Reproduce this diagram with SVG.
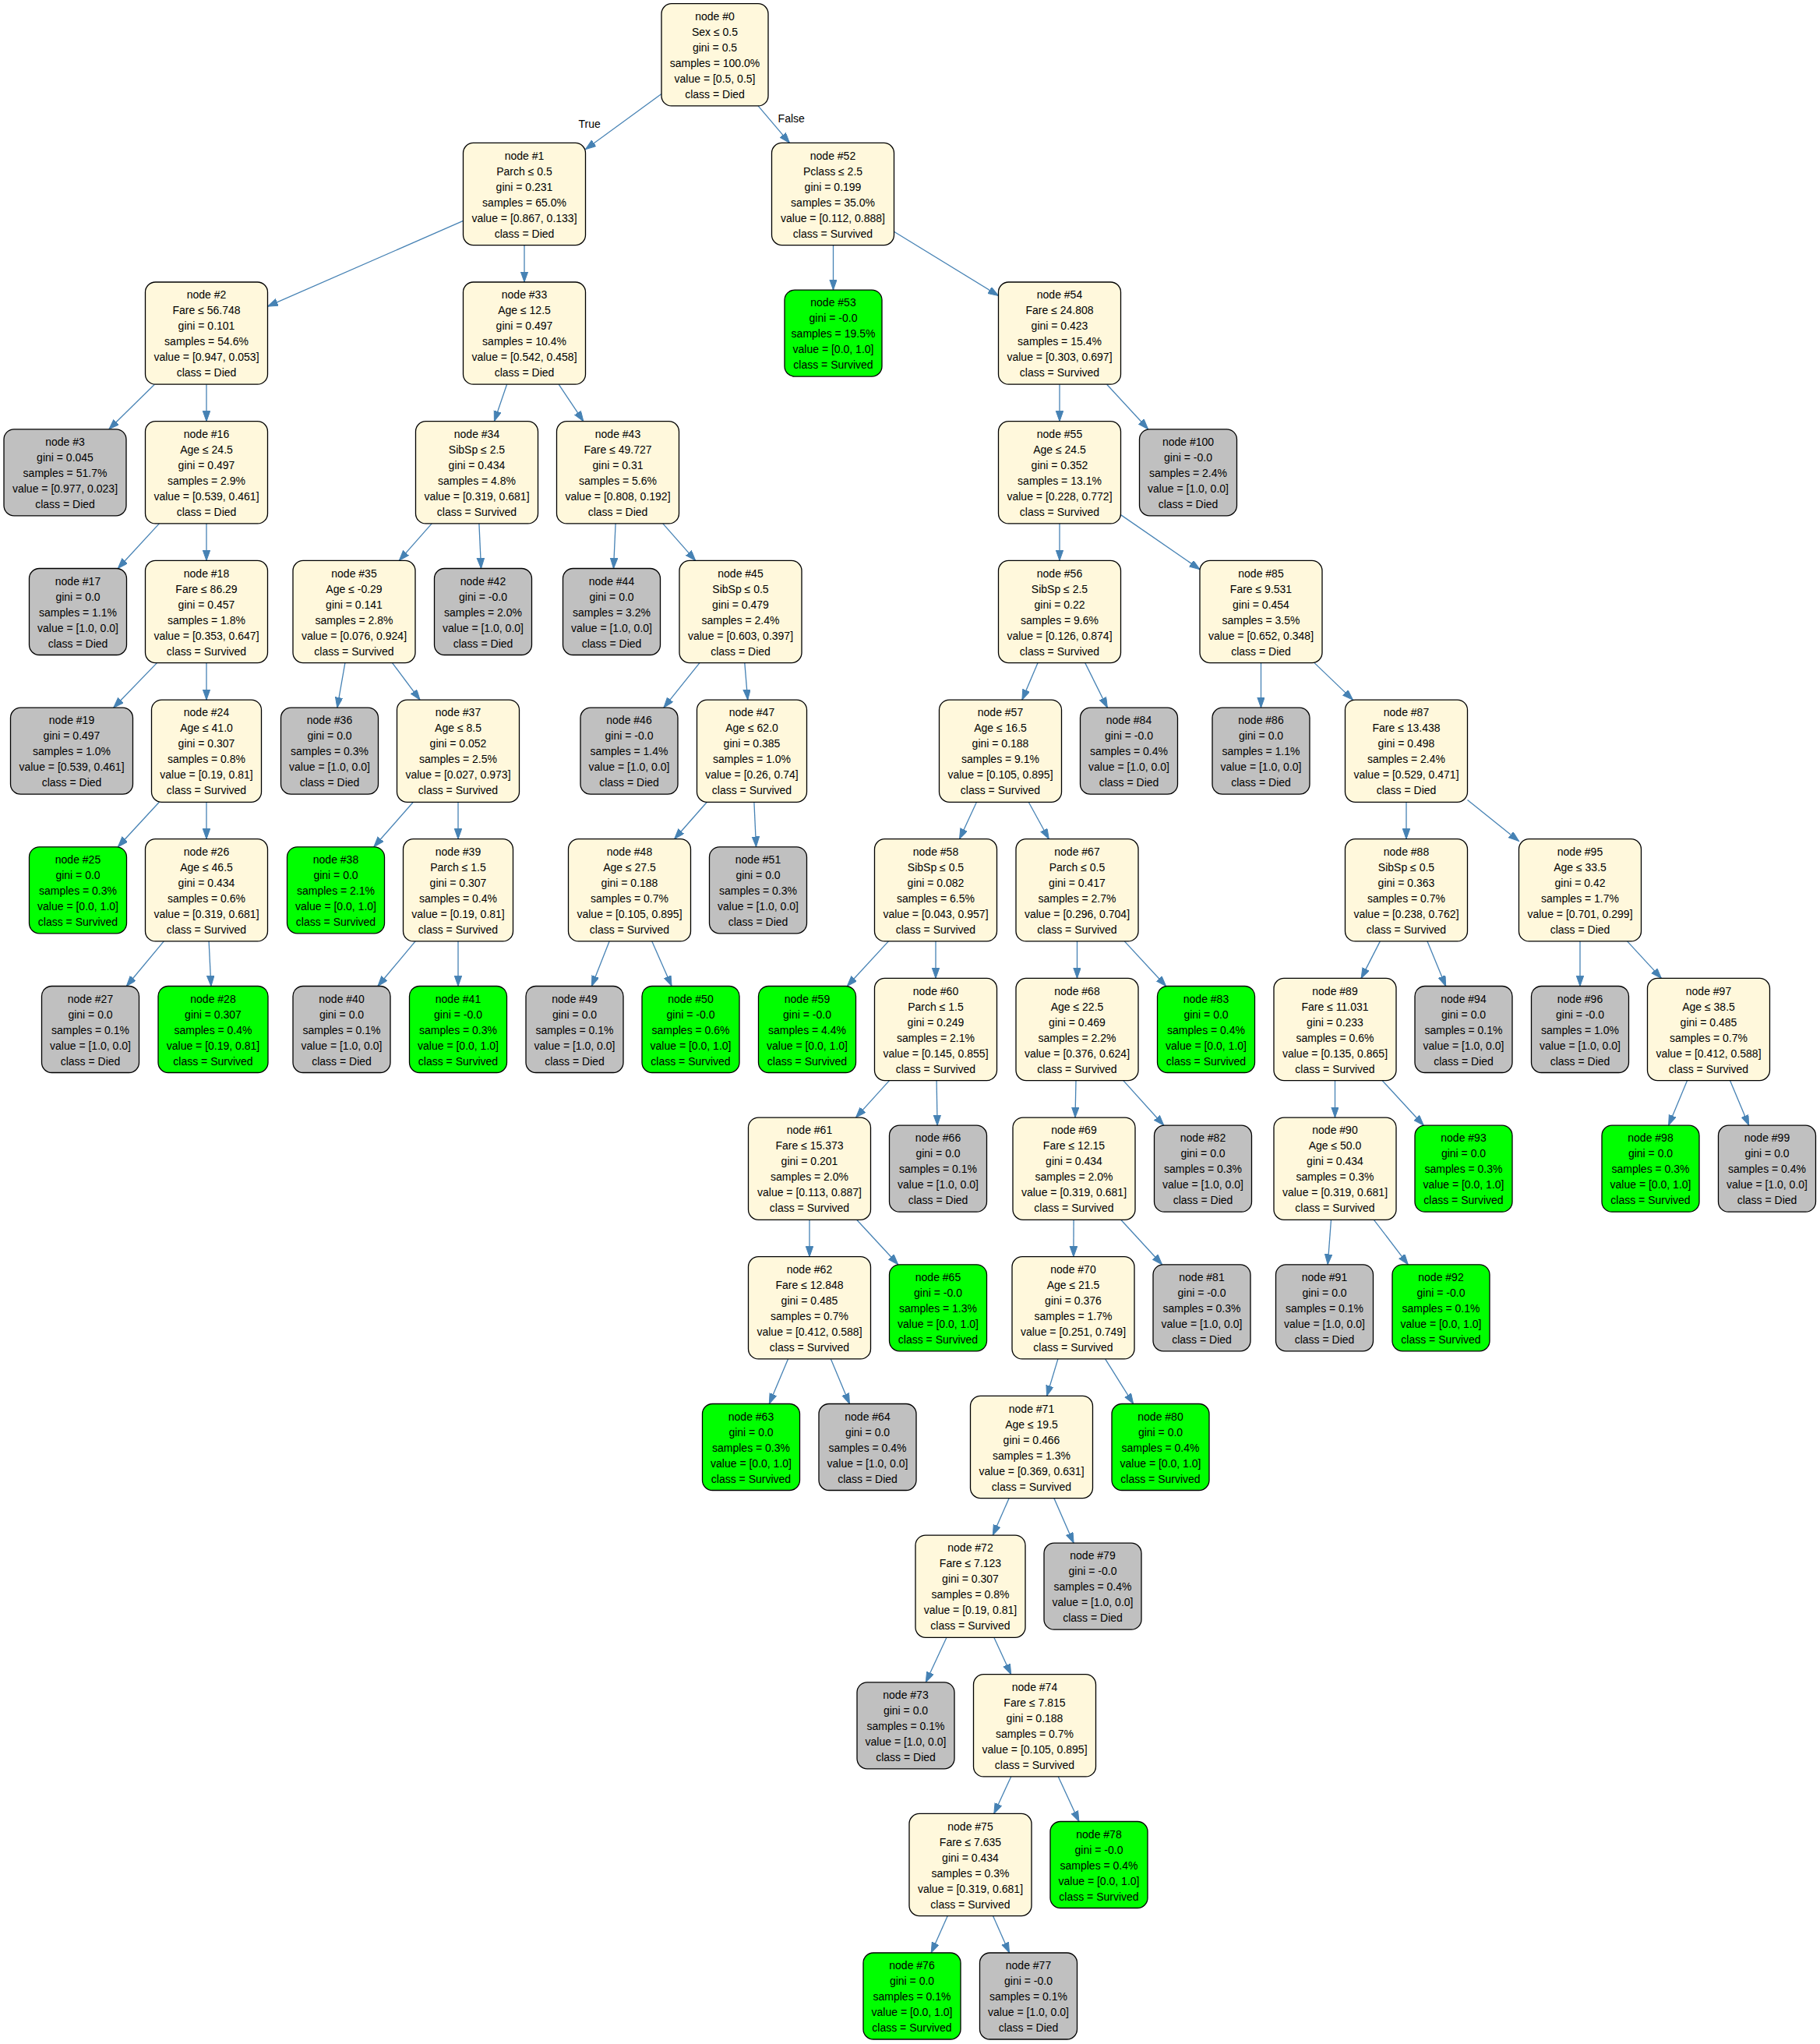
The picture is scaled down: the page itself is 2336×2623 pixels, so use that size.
<svg xmlns="http://www.w3.org/2000/svg" width="2336" height="2623" viewBox="0 0 2336 2623">
<style>
.i,.s,.d{stroke:#000;stroke-width:1.3}
.i{fill:#fff8dc}.s{fill:#00ff00}.d{fill:#c0c0c0}
text{font-family:"Liberation Sans",Arial,Helvetica,sans-serif;font-size:14px;text-anchor:middle;fill:#000}
#edges line{stroke:#4682b4;stroke-width:1.3;fill:none;marker-end:url(#a)}
</style>
<defs>
<marker id="a" markerUnits="userSpaceOnUse" markerWidth="15" markerHeight="11" refX="13.3" refY="4.7" orient="auto">
<path d="M0,0 L13.3,4.7 L0,9.4 Z" fill="#4682b4" stroke="#4682b4" stroke-width="1"/>
</marker>
</defs>
<rect x="0" y="0" width="2336" height="2623" fill="#fff"/>
<g id="edges">
<line x1="849" y1="120.4" x2="751.5" y2="191.6"/>
<line x1="973.1" y1="135.9" x2="1013.4" y2="183.4"/>
<line x1="594.5" y1="283.4" x2="343.5" y2="393.2"/>
<line x1="673" y1="314.6" x2="673" y2="362"/>
<line x1="198.4" y1="493.2" x2="139.9" y2="550.8"/>
<line x1="265" y1="493.2" x2="265" y2="540.7"/>
<line x1="204.4" y1="671.9" x2="151.3" y2="729.5"/>
<line x1="265" y1="671.9" x2="265" y2="719.4"/>
<line x1="201.5" y1="850.6" x2="145.7" y2="908.2"/>
<line x1="265" y1="850.6" x2="265" y2="898.1"/>
<line x1="204.4" y1="1029.3" x2="151.3" y2="1086.8"/>
<line x1="265" y1="1029.3" x2="265" y2="1076.7"/>
<line x1="210.3" y1="1207.9" x2="162.3" y2="1265.5"/>
<line x1="268.1" y1="1207.9" x2="270.9" y2="1265.5"/>
<line x1="650.6" y1="493.2" x2="634.4" y2="540.7"/>
<line x1="717.1" y1="493.2" x2="748.9" y2="540.7"/>
<line x1="554.2" y1="671.9" x2="512.3" y2="719.4"/>
<line x1="614.9" y1="671.9" x2="617.5" y2="729.5"/>
<line x1="442.9" y1="850.6" x2="432.8" y2="908.2"/>
<line x1="503.5" y1="850.6" x2="539" y2="898.1"/>
<line x1="530.4" y1="1029.3" x2="479.8" y2="1086.8"/>
<line x1="588" y1="1029.3" x2="588" y2="1076.7"/>
<line x1="533.1" y1="1207.9" x2="484.9" y2="1265.5"/>
<line x1="588" y1="1207.9" x2="588" y2="1265.5"/>
<line x1="790.1" y1="671.9" x2="787.5" y2="729.5"/>
<line x1="850.8" y1="671.9" x2="892.7" y2="719.4"/>
<line x1="898" y1="850.6" x2="851.9" y2="908.2"/>
<line x1="955.8" y1="850.6" x2="959.7" y2="898.1"/>
<line x1="907.4" y1="1029.3" x2="865.6" y2="1076.7"/>
<line x1="967.9" y1="1029.3" x2="970.5" y2="1086.8"/>
<line x1="782.1" y1="1207.9" x2="759.4" y2="1265.5"/>
<line x1="836.8" y1="1207.9" x2="862.1" y2="1265.5"/>
<line x1="1069.5" y1="314.6" x2="1069.5" y2="372.1"/>
<line x1="1147.5" y1="297.2" x2="1281.5" y2="379.4"/>
<line x1="1360" y1="493.2" x2="1360" y2="540.7"/>
<line x1="1420.6" y1="493.2" x2="1473.7" y2="550.8"/>
<line x1="1360" y1="671.9" x2="1360" y2="719.4"/>
<line x1="1438.5" y1="660.6" x2="1540" y2="730.7"/>
<line x1="1332.1" y1="850.6" x2="1311.9" y2="898.1"/>
<line x1="1392.7" y1="850.6" x2="1421.4" y2="908.2"/>
<line x1="1253.5" y1="1029.3" x2="1231.5" y2="1076.7"/>
<line x1="1320.2" y1="1029.3" x2="1346.3" y2="1076.7"/>
<line x1="1140.4" y1="1207.9" x2="1087.3" y2="1265.5"/>
<line x1="1201" y1="1207.9" x2="1201" y2="1255.4"/>
<line x1="1141.5" y1="1386.6" x2="1098.5" y2="1434.1"/>
<line x1="1202.1" y1="1386.6" x2="1203.1" y2="1444.2"/>
<line x1="1039" y1="1565.3" x2="1039" y2="1612.7"/>
<line x1="1099.6" y1="1565.3" x2="1152.8" y2="1622.8"/>
<line x1="1011.5" y1="1743.9" x2="987.3" y2="1801.5"/>
<line x1="1066.4" y1="1743.9" x2="1090.4" y2="1801.5"/>
<line x1="1382.5" y1="1207.9" x2="1382.5" y2="1255.4"/>
<line x1="1443.3" y1="1207.9" x2="1496.6" y2="1265.5"/>
<line x1="1381" y1="1386.6" x2="1380" y2="1434.1"/>
<line x1="1441.8" y1="1386.6" x2="1493.8" y2="1444.2"/>
<line x1="1378.1" y1="1565.3" x2="1377.9" y2="1612.7"/>
<line x1="1438.7" y1="1565.3" x2="1491.6" y2="1622.8"/>
<line x1="1357.9" y1="1743.9" x2="1343.6" y2="1791.4"/>
<line x1="1418.6" y1="1743.9" x2="1454.7" y2="1801.5"/>
<line x1="1295.2" y1="1922.6" x2="1274.3" y2="1970.1"/>
<line x1="1352.8" y1="1922.6" x2="1378.1" y2="1980.2"/>
<line x1="1215" y1="2101.3" x2="1188.3" y2="2158.8"/>
<line x1="1275.8" y1="2101.3" x2="1297.7" y2="2148.7"/>
<line x1="1297.7" y1="2279.9" x2="1275.8" y2="2327.4"/>
<line x1="1358.3" y1="2279.9" x2="1384.9" y2="2337.5"/>
<line x1="1216.3" y1="2458.6" x2="1195.2" y2="2506"/>
<line x1="1274.5" y1="2458.6" x2="1295.5" y2="2506"/>
<line x1="1618.5" y1="850.6" x2="1618.5" y2="908.2"/>
<line x1="1687" y1="850.6" x2="1736.5" y2="898.1"/>
<line x1="1805" y1="1029.3" x2="1805" y2="1076.7"/>
<line x1="1883.5" y1="1026.6" x2="1949.5" y2="1079.4"/>
<line x1="1771.4" y1="1207.9" x2="1747.1" y2="1255.4"/>
<line x1="1832" y1="1207.9" x2="1855.7" y2="1265.5"/>
<line x1="1713.5" y1="1386.6" x2="1713.5" y2="1434.1"/>
<line x1="1774.1" y1="1386.6" x2="1827.3" y2="1444.2"/>
<line x1="1708.5" y1="1565.3" x2="1704.2" y2="1622.8"/>
<line x1="1763.4" y1="1565.3" x2="1807.3" y2="1622.8"/>
<line x1="2028" y1="1207.9" x2="2028" y2="1265.5"/>
<line x1="2088.6" y1="1207.9" x2="2132.4" y2="1255.4"/>
<line x1="2165.6" y1="1386.6" x2="2141.6" y2="1444.2"/>
<line x1="2220.5" y1="1386.6" x2="2244.7" y2="1444.2"/>
<text x="756.7" y="164.3">True</text>
<text x="1015.7" y="156.7">False</text>
</g>
<g id="node0"><rect class="i" x="849" y="4.7" width="137" height="131.2" rx="13"/><text x="917.5" y="26"><tspan x="917.5">node #0</tspan><tspan x="917.5" dy="20">Sex ≤ 0.5</tspan><tspan x="917.5" dy="20">gini = 0.5</tspan><tspan x="917.5" dy="20">samples = 100.0%</tspan><tspan x="917.5" dy="20">value = [0.5, 0.5]</tspan><tspan x="917.5" dy="20">class = Died</tspan></text></g>
<g id="node1"><rect class="i" x="594.5" y="183.4" width="157" height="131.2" rx="13"/><text x="673" y="204.7"><tspan x="673">node #1</tspan><tspan x="673" dy="20">Parch ≤ 0.5</tspan><tspan x="673" dy="20">gini = 0.231</tspan><tspan x="673" dy="20">samples = 65.0%</tspan><tspan x="673" dy="20">value = [0.867, 0.133]</tspan><tspan x="673" dy="20">class = Died</tspan></text></g>
<g id="node52"><rect class="i" x="990.5" y="183.4" width="157" height="131.2" rx="13"/><text x="1069" y="204.7"><tspan x="1069">node #52</tspan><tspan x="1069" dy="20">Pclass ≤ 2.5</tspan><tspan x="1069" dy="20">gini = 0.199</tspan><tspan x="1069" dy="20">samples = 35.0%</tspan><tspan x="1069" dy="20">value = [0.112, 0.888]</tspan><tspan x="1069" dy="20">class = Survived</tspan></text></g>
<g id="node2"><rect class="i" x="186.5" y="362" width="157" height="131.2" rx="13"/><text x="265" y="383.3"><tspan x="265">node #2</tspan><tspan x="265" dy="20">Fare ≤ 56.748</tspan><tspan x="265" dy="20">gini = 0.101</tspan><tspan x="265" dy="20">samples = 54.6%</tspan><tspan x="265" dy="20">value = [0.947, 0.053]</tspan><tspan x="265" dy="20">class = Died</tspan></text></g>
<g id="node33"><rect class="i" x="594.5" y="362" width="157" height="131.2" rx="13"/><text x="673" y="383.3"><tspan x="673">node #33</tspan><tspan x="673" dy="20">Age ≤ 12.5</tspan><tspan x="673" dy="20">gini = 0.497</tspan><tspan x="673" dy="20">samples = 10.4%</tspan><tspan x="673" dy="20">value = [0.542, 0.458]</tspan><tspan x="673" dy="20">class = Died</tspan></text></g>
<g id="node53"><rect class="s" x="1007" y="372.1" width="125" height="111" rx="13"/><text x="1069.5" y="393.3"><tspan x="1069.5">node #53</tspan><tspan x="1069.5" dy="20">gini = -0.0</tspan><tspan x="1069.5" dy="20">samples = 19.5%</tspan><tspan x="1069.5" dy="20">value = [0.0, 1.0]</tspan><tspan x="1069.5" dy="20">class = Survived</tspan></text></g>
<g id="node54"><rect class="i" x="1281.5" y="362" width="157" height="131.2" rx="13"/><text x="1360" y="383.3"><tspan x="1360">node #54</tspan><tspan x="1360" dy="20">Fare ≤ 24.808</tspan><tspan x="1360" dy="20">gini = 0.423</tspan><tspan x="1360" dy="20">samples = 15.4%</tspan><tspan x="1360" dy="20">value = [0.303, 0.697]</tspan><tspan x="1360" dy="20">class = Survived</tspan></text></g>
<g id="node3"><rect class="d" x="5" y="550.8" width="157" height="111" rx="13"/><text x="83.5" y="572"><tspan x="83.5">node #3</tspan><tspan x="83.5" dy="20">gini = 0.045</tspan><tspan x="83.5" dy="20">samples = 51.7%</tspan><tspan x="83.5" dy="20">value = [0.977, 0.023]</tspan><tspan x="83.5" dy="20">class = Died</tspan></text></g>
<g id="node16"><rect class="i" x="186.5" y="540.7" width="157" height="131.2" rx="13"/><text x="265" y="562"><tspan x="265">node #16</tspan><tspan x="265" dy="20">Age ≤ 24.5</tspan><tspan x="265" dy="20">gini = 0.497</tspan><tspan x="265" dy="20">samples = 2.9%</tspan><tspan x="265" dy="20">value = [0.539, 0.461]</tspan><tspan x="265" dy="20">class = Died</tspan></text></g>
<g id="node34"><rect class="i" x="533.5" y="540.7" width="157" height="131.2" rx="13"/><text x="612" y="562"><tspan x="612">node #34</tspan><tspan x="612" dy="20">SibSp ≤ 2.5</tspan><tspan x="612" dy="20">gini = 0.434</tspan><tspan x="612" dy="20">samples = 4.8%</tspan><tspan x="612" dy="20">value = [0.319, 0.681]</tspan><tspan x="612" dy="20">class = Survived</tspan></text></g>
<g id="node43"><rect class="i" x="714.5" y="540.7" width="157" height="131.2" rx="13"/><text x="793" y="562"><tspan x="793">node #43</tspan><tspan x="793" dy="20">Fare ≤ 49.727</tspan><tspan x="793" dy="20">gini = 0.31</tspan><tspan x="793" dy="20">samples = 5.6%</tspan><tspan x="793" dy="20">value = [0.808, 0.192]</tspan><tspan x="793" dy="20">class = Died</tspan></text></g>
<g id="node55"><rect class="i" x="1281.5" y="540.7" width="157" height="131.2" rx="13"/><text x="1360" y="562"><tspan x="1360">node #55</tspan><tspan x="1360" dy="20">Age ≤ 24.5</tspan><tspan x="1360" dy="20">gini = 0.352</tspan><tspan x="1360" dy="20">samples = 13.1%</tspan><tspan x="1360" dy="20">value = [0.228, 0.772]</tspan><tspan x="1360" dy="20">class = Survived</tspan></text></g>
<g id="node100"><rect class="d" x="1462.5" y="550.8" width="125" height="111" rx="13"/><text x="1525" y="572"><tspan x="1525">node #100</tspan><tspan x="1525" dy="20">gini = -0.0</tspan><tspan x="1525" dy="20">samples = 2.4%</tspan><tspan x="1525" dy="20">value = [1.0, 0.0]</tspan><tspan x="1525" dy="20">class = Died</tspan></text></g>
<g id="node17"><rect class="d" x="37.5" y="729.5" width="125" height="111" rx="13"/><text x="100" y="750.7"><tspan x="100">node #17</tspan><tspan x="100" dy="20">gini = 0.0</tspan><tspan x="100" dy="20">samples = 1.1%</tspan><tspan x="100" dy="20">value = [1.0, 0.0]</tspan><tspan x="100" dy="20">class = Died</tspan></text></g>
<g id="node18"><rect class="i" x="186.5" y="719.4" width="157" height="131.2" rx="13"/><text x="265" y="740.7"><tspan x="265">node #18</tspan><tspan x="265" dy="20">Fare ≤ 86.29</tspan><tspan x="265" dy="20">gini = 0.457</tspan><tspan x="265" dy="20">samples = 1.8%</tspan><tspan x="265" dy="20">value = [0.353, 0.647]</tspan><tspan x="265" dy="20">class = Survived</tspan></text></g>
<g id="node35"><rect class="i" x="376" y="719.4" width="157" height="131.2" rx="13"/><text x="454.5" y="740.7"><tspan x="454.5">node #35</tspan><tspan x="454.5" dy="20">Age ≤ -0.29</tspan><tspan x="454.5" dy="20">gini = 0.141</tspan><tspan x="454.5" dy="20">samples = 2.8%</tspan><tspan x="454.5" dy="20">value = [0.076, 0.924]</tspan><tspan x="454.5" dy="20">class = Survived</tspan></text></g>
<g id="node42"><rect class="d" x="557.5" y="729.5" width="125" height="111" rx="13"/><text x="620" y="750.7"><tspan x="620">node #42</tspan><tspan x="620" dy="20">gini = -0.0</tspan><tspan x="620" dy="20">samples = 2.0%</tspan><tspan x="620" dy="20">value = [1.0, 0.0]</tspan><tspan x="620" dy="20">class = Died</tspan></text></g>
<g id="node44"><rect class="d" x="722.5" y="729.5" width="125" height="111" rx="13"/><text x="785" y="750.7"><tspan x="785">node #44</tspan><tspan x="785" dy="20">gini = 0.0</tspan><tspan x="785" dy="20">samples = 3.2%</tspan><tspan x="785" dy="20">value = [1.0, 0.0]</tspan><tspan x="785" dy="20">class = Died</tspan></text></g>
<g id="node45"><rect class="i" x="872" y="719.4" width="157" height="131.2" rx="13"/><text x="950.5" y="740.7"><tspan x="950.5">node #45</tspan><tspan x="950.5" dy="20">SibSp ≤ 0.5</tspan><tspan x="950.5" dy="20">gini = 0.479</tspan><tspan x="950.5" dy="20">samples = 2.4%</tspan><tspan x="950.5" dy="20">value = [0.603, 0.397]</tspan><tspan x="950.5" dy="20">class = Died</tspan></text></g>
<g id="node56"><rect class="i" x="1281.5" y="719.4" width="157" height="131.2" rx="13"/><text x="1360" y="740.7"><tspan x="1360">node #56</tspan><tspan x="1360" dy="20">SibSp ≤ 2.5</tspan><tspan x="1360" dy="20">gini = 0.22</tspan><tspan x="1360" dy="20">samples = 9.6%</tspan><tspan x="1360" dy="20">value = [0.126, 0.874]</tspan><tspan x="1360" dy="20">class = Survived</tspan></text></g>
<g id="node85"><rect class="i" x="1540" y="719.4" width="157" height="131.2" rx="13"/><text x="1618.5" y="740.7"><tspan x="1618.5">node #85</tspan><tspan x="1618.5" dy="20">Fare ≤ 9.531</tspan><tspan x="1618.5" dy="20">gini = 0.454</tspan><tspan x="1618.5" dy="20">samples = 3.5%</tspan><tspan x="1618.5" dy="20">value = [0.652, 0.348]</tspan><tspan x="1618.5" dy="20">class = Died</tspan></text></g>
<g id="node19"><rect class="d" x="13.5" y="908.2" width="157" height="111" rx="13"/><text x="92" y="929.4"><tspan x="92">node #19</tspan><tspan x="92" dy="20">gini = 0.497</tspan><tspan x="92" dy="20">samples = 1.0%</tspan><tspan x="92" dy="20">value = [0.539, 0.461]</tspan><tspan x="92" dy="20">class = Died</tspan></text></g>
<g id="node24"><rect class="i" x="194.5" y="898.1" width="141" height="131.2" rx="13"/><text x="265" y="919.4"><tspan x="265">node #24</tspan><tspan x="265" dy="20">Age ≤ 41.0</tspan><tspan x="265" dy="20">gini = 0.307</tspan><tspan x="265" dy="20">samples = 0.8%</tspan><tspan x="265" dy="20">value = [0.19, 0.81]</tspan><tspan x="265" dy="20">class = Survived</tspan></text></g>
<g id="node36"><rect class="d" x="360.5" y="908.2" width="125" height="111" rx="13"/><text x="423" y="929.4"><tspan x="423">node #36</tspan><tspan x="423" dy="20">gini = 0.0</tspan><tspan x="423" dy="20">samples = 0.3%</tspan><tspan x="423" dy="20">value = [1.0, 0.0]</tspan><tspan x="423" dy="20">class = Died</tspan></text></g>
<g id="node37"><rect class="i" x="509.5" y="898.1" width="157" height="131.2" rx="13"/><text x="588" y="919.4"><tspan x="588">node #37</tspan><tspan x="588" dy="20">Age ≤ 8.5</tspan><tspan x="588" dy="20">gini = 0.052</tspan><tspan x="588" dy="20">samples = 2.5%</tspan><tspan x="588" dy="20">value = [0.027, 0.973]</tspan><tspan x="588" dy="20">class = Survived</tspan></text></g>
<g id="node46"><rect class="d" x="745" y="908.2" width="125" height="111" rx="13"/><text x="807.5" y="929.4"><tspan x="807.5">node #46</tspan><tspan x="807.5" dy="20">gini = -0.0</tspan><tspan x="807.5" dy="20">samples = 1.4%</tspan><tspan x="807.5" dy="20">value = [1.0, 0.0]</tspan><tspan x="807.5" dy="20">class = Died</tspan></text></g>
<g id="node47"><rect class="i" x="894.5" y="898.1" width="141" height="131.2" rx="13"/><text x="965" y="919.4"><tspan x="965">node #47</tspan><tspan x="965" dy="20">Age ≤ 62.0</tspan><tspan x="965" dy="20">gini = 0.385</tspan><tspan x="965" dy="20">samples = 1.0%</tspan><tspan x="965" dy="20">value = [0.26, 0.74]</tspan><tspan x="965" dy="20">class = Survived</tspan></text></g>
<g id="node57"><rect class="i" x="1205.5" y="898.1" width="157" height="131.2" rx="13"/><text x="1284" y="919.4"><tspan x="1284">node #57</tspan><tspan x="1284" dy="20">Age ≤ 16.5</tspan><tspan x="1284" dy="20">gini = 0.188</tspan><tspan x="1284" dy="20">samples = 9.1%</tspan><tspan x="1284" dy="20">value = [0.105, 0.895]</tspan><tspan x="1284" dy="20">class = Survived</tspan></text></g>
<g id="node84"><rect class="d" x="1386.5" y="908.2" width="125" height="111" rx="13"/><text x="1449" y="929.4"><tspan x="1449">node #84</tspan><tspan x="1449" dy="20">gini = -0.0</tspan><tspan x="1449" dy="20">samples = 0.4%</tspan><tspan x="1449" dy="20">value = [1.0, 0.0]</tspan><tspan x="1449" dy="20">class = Died</tspan></text></g>
<g id="node86"><rect class="d" x="1556" y="908.2" width="125" height="111" rx="13"/><text x="1618.5" y="929.4"><tspan x="1618.5">node #86</tspan><tspan x="1618.5" dy="20">gini = 0.0</tspan><tspan x="1618.5" dy="20">samples = 1.1%</tspan><tspan x="1618.5" dy="20">value = [1.0, 0.0]</tspan><tspan x="1618.5" dy="20">class = Died</tspan></text></g>
<g id="node87"><rect class="i" x="1726.5" y="898.1" width="157" height="131.2" rx="13"/><text x="1805" y="919.4"><tspan x="1805">node #87</tspan><tspan x="1805" dy="20">Fare ≤ 13.438</tspan><tspan x="1805" dy="20">gini = 0.498</tspan><tspan x="1805" dy="20">samples = 2.4%</tspan><tspan x="1805" dy="20">value = [0.529, 0.471]</tspan><tspan x="1805" dy="20">class = Died</tspan></text></g>
<g id="node25"><rect class="s" x="37.5" y="1086.8" width="125" height="111" rx="13"/><text x="100" y="1108"><tspan x="100">node #25</tspan><tspan x="100" dy="20">gini = 0.0</tspan><tspan x="100" dy="20">samples = 0.3%</tspan><tspan x="100" dy="20">value = [0.0, 1.0]</tspan><tspan x="100" dy="20">class = Survived</tspan></text></g>
<g id="node26"><rect class="i" x="186.5" y="1076.7" width="157" height="131.2" rx="13"/><text x="265" y="1098"><tspan x="265">node #26</tspan><tspan x="265" dy="20">Age ≤ 46.5</tspan><tspan x="265" dy="20">gini = 0.434</tspan><tspan x="265" dy="20">samples = 0.6%</tspan><tspan x="265" dy="20">value = [0.319, 0.681]</tspan><tspan x="265" dy="20">class = Survived</tspan></text></g>
<g id="node38"><rect class="s" x="368.5" y="1086.8" width="125" height="111" rx="13"/><text x="431" y="1108"><tspan x="431">node #38</tspan><tspan x="431" dy="20">gini = 0.0</tspan><tspan x="431" dy="20">samples = 2.1%</tspan><tspan x="431" dy="20">value = [0.0, 1.0]</tspan><tspan x="431" dy="20">class = Survived</tspan></text></g>
<g id="node39"><rect class="i" x="517.5" y="1076.7" width="141" height="131.2" rx="13"/><text x="588" y="1098"><tspan x="588">node #39</tspan><tspan x="588" dy="20">Parch ≤ 1.5</tspan><tspan x="588" dy="20">gini = 0.307</tspan><tspan x="588" dy="20">samples = 0.4%</tspan><tspan x="588" dy="20">value = [0.19, 0.81]</tspan><tspan x="588" dy="20">class = Survived</tspan></text></g>
<g id="node48"><rect class="i" x="729.5" y="1076.7" width="157" height="131.2" rx="13"/><text x="808" y="1098"><tspan x="808">node #48</tspan><tspan x="808" dy="20">Age ≤ 27.5</tspan><tspan x="808" dy="20">gini = 0.188</tspan><tspan x="808" dy="20">samples = 0.7%</tspan><tspan x="808" dy="20">value = [0.105, 0.895]</tspan><tspan x="808" dy="20">class = Survived</tspan></text></g>
<g id="node51"><rect class="d" x="910.5" y="1086.8" width="125" height="111" rx="13"/><text x="973" y="1108"><tspan x="973">node #51</tspan><tspan x="973" dy="20">gini = 0.0</tspan><tspan x="973" dy="20">samples = 0.3%</tspan><tspan x="973" dy="20">value = [1.0, 0.0]</tspan><tspan x="973" dy="20">class = Died</tspan></text></g>
<g id="node58"><rect class="i" x="1122.5" y="1076.7" width="157" height="131.2" rx="13"/><text x="1201" y="1098"><tspan x="1201">node #58</tspan><tspan x="1201" dy="20">SibSp ≤ 0.5</tspan><tspan x="1201" dy="20">gini = 0.082</tspan><tspan x="1201" dy="20">samples = 6.5%</tspan><tspan x="1201" dy="20">value = [0.043, 0.957]</tspan><tspan x="1201" dy="20">class = Survived</tspan></text></g>
<g id="node67"><rect class="i" x="1304" y="1076.7" width="157" height="131.2" rx="13"/><text x="1382.5" y="1098"><tspan x="1382.5">node #67</tspan><tspan x="1382.5" dy="20">Parch ≤ 0.5</tspan><tspan x="1382.5" dy="20">gini = 0.417</tspan><tspan x="1382.5" dy="20">samples = 2.7%</tspan><tspan x="1382.5" dy="20">value = [0.296, 0.704]</tspan><tspan x="1382.5" dy="20">class = Survived</tspan></text></g>
<g id="node88"><rect class="i" x="1726.5" y="1076.7" width="157" height="131.2" rx="13"/><text x="1805" y="1098"><tspan x="1805">node #88</tspan><tspan x="1805" dy="20">SibSp ≤ 0.5</tspan><tspan x="1805" dy="20">gini = 0.363</tspan><tspan x="1805" dy="20">samples = 0.7%</tspan><tspan x="1805" dy="20">value = [0.238, 0.762]</tspan><tspan x="1805" dy="20">class = Survived</tspan></text></g>
<g id="node95"><rect class="i" x="1949.5" y="1076.7" width="157" height="131.2" rx="13"/><text x="2028" y="1098"><tspan x="2028">node #95</tspan><tspan x="2028" dy="20">Age ≤ 33.5</tspan><tspan x="2028" dy="20">gini = 0.42</tspan><tspan x="2028" dy="20">samples = 1.7%</tspan><tspan x="2028" dy="20">value = [0.701, 0.299]</tspan><tspan x="2028" dy="20">class = Died</tspan></text></g>
<g id="node27"><rect class="d" x="53.5" y="1265.5" width="125" height="111" rx="13"/><text x="116" y="1286.7"><tspan x="116">node #27</tspan><tspan x="116" dy="20">gini = 0.0</tspan><tspan x="116" dy="20">samples = 0.1%</tspan><tspan x="116" dy="20">value = [1.0, 0.0]</tspan><tspan x="116" dy="20">class = Died</tspan></text></g>
<g id="node28"><rect class="s" x="203" y="1265.5" width="141" height="111" rx="13"/><text x="273.5" y="1286.7"><tspan x="273.5">node #28</tspan><tspan x="273.5" dy="20">gini = 0.307</tspan><tspan x="273.5" dy="20">samples = 0.4%</tspan><tspan x="273.5" dy="20">value = [0.19, 0.81]</tspan><tspan x="273.5" dy="20">class = Survived</tspan></text></g>
<g id="node40"><rect class="d" x="376" y="1265.5" width="125" height="111" rx="13"/><text x="438.5" y="1286.7"><tspan x="438.5">node #40</tspan><tspan x="438.5" dy="20">gini = 0.0</tspan><tspan x="438.5" dy="20">samples = 0.1%</tspan><tspan x="438.5" dy="20">value = [1.0, 0.0]</tspan><tspan x="438.5" dy="20">class = Died</tspan></text></g>
<g id="node41"><rect class="s" x="525.5" y="1265.5" width="125" height="111" rx="13"/><text x="588" y="1286.7"><tspan x="588">node #41</tspan><tspan x="588" dy="20">gini = -0.0</tspan><tspan x="588" dy="20">samples = 0.3%</tspan><tspan x="588" dy="20">value = [0.0, 1.0]</tspan><tspan x="588" dy="20">class = Survived</tspan></text></g>
<g id="node49"><rect class="d" x="675" y="1265.5" width="125" height="111" rx="13"/><text x="737.5" y="1286.7"><tspan x="737.5">node #49</tspan><tspan x="737.5" dy="20">gini = 0.0</tspan><tspan x="737.5" dy="20">samples = 0.1%</tspan><tspan x="737.5" dy="20">value = [1.0, 0.0]</tspan><tspan x="737.5" dy="20">class = Died</tspan></text></g>
<g id="node50"><rect class="s" x="824" y="1265.5" width="125" height="111" rx="13"/><text x="886.5" y="1286.7"><tspan x="886.5">node #50</tspan><tspan x="886.5" dy="20">gini = -0.0</tspan><tspan x="886.5" dy="20">samples = 0.6%</tspan><tspan x="886.5" dy="20">value = [0.0, 1.0]</tspan><tspan x="886.5" dy="20">class = Survived</tspan></text></g>
<g id="node59"><rect class="s" x="973.5" y="1265.5" width="125" height="111" rx="13"/><text x="1036" y="1286.7"><tspan x="1036">node #59</tspan><tspan x="1036" dy="20">gini = -0.0</tspan><tspan x="1036" dy="20">samples = 4.4%</tspan><tspan x="1036" dy="20">value = [0.0, 1.0]</tspan><tspan x="1036" dy="20">class = Survived</tspan></text></g>
<g id="node60"><rect class="i" x="1122.5" y="1255.4" width="157" height="131.2" rx="13"/><text x="1201" y="1276.7"><tspan x="1201">node #60</tspan><tspan x="1201" dy="20">Parch ≤ 1.5</tspan><tspan x="1201" dy="20">gini = 0.249</tspan><tspan x="1201" dy="20">samples = 2.1%</tspan><tspan x="1201" dy="20">value = [0.145, 0.855]</tspan><tspan x="1201" dy="20">class = Survived</tspan></text></g>
<g id="node68"><rect class="i" x="1304" y="1255.4" width="157" height="131.2" rx="13"/><text x="1382.5" y="1276.7"><tspan x="1382.5">node #68</tspan><tspan x="1382.5" dy="20">Age ≤ 22.5</tspan><tspan x="1382.5" dy="20">gini = 0.469</tspan><tspan x="1382.5" dy="20">samples = 2.2%</tspan><tspan x="1382.5" dy="20">value = [0.376, 0.624]</tspan><tspan x="1382.5" dy="20">class = Survived</tspan></text></g>
<g id="node83"><rect class="s" x="1485.5" y="1265.5" width="125" height="111" rx="13"/><text x="1548" y="1286.7"><tspan x="1548">node #83</tspan><tspan x="1548" dy="20">gini = 0.0</tspan><tspan x="1548" dy="20">samples = 0.4%</tspan><tspan x="1548" dy="20">value = [0.0, 1.0]</tspan><tspan x="1548" dy="20">class = Survived</tspan></text></g>
<g id="node89"><rect class="i" x="1635" y="1255.4" width="157" height="131.2" rx="13"/><text x="1713.5" y="1276.7"><tspan x="1713.5">node #89</tspan><tspan x="1713.5" dy="20">Fare ≤ 11.031</tspan><tspan x="1713.5" dy="20">gini = 0.233</tspan><tspan x="1713.5" dy="20">samples = 0.6%</tspan><tspan x="1713.5" dy="20">value = [0.135, 0.865]</tspan><tspan x="1713.5" dy="20">class = Survived</tspan></text></g>
<g id="node94"><rect class="d" x="1816" y="1265.5" width="125" height="111" rx="13"/><text x="1878.5" y="1286.7"><tspan x="1878.5">node #94</tspan><tspan x="1878.5" dy="20">gini = 0.0</tspan><tspan x="1878.5" dy="20">samples = 0.1%</tspan><tspan x="1878.5" dy="20">value = [1.0, 0.0]</tspan><tspan x="1878.5" dy="20">class = Died</tspan></text></g>
<g id="node96"><rect class="d" x="1965.5" y="1265.5" width="125" height="111" rx="13"/><text x="2028" y="1286.7"><tspan x="2028">node #96</tspan><tspan x="2028" dy="20">gini = -0.0</tspan><tspan x="2028" dy="20">samples = 1.0%</tspan><tspan x="2028" dy="20">value = [1.0, 0.0]</tspan><tspan x="2028" dy="20">class = Died</tspan></text></g>
<g id="node97"><rect class="i" x="2114.5" y="1255.4" width="157" height="131.2" rx="13"/><text x="2193" y="1276.7"><tspan x="2193">node #97</tspan><tspan x="2193" dy="20">Age ≤ 38.5</tspan><tspan x="2193" dy="20">gini = 0.485</tspan><tspan x="2193" dy="20">samples = 0.7%</tspan><tspan x="2193" dy="20">value = [0.412, 0.588]</tspan><tspan x="2193" dy="20">class = Survived</tspan></text></g>
<g id="node61"><rect class="i" x="960.5" y="1434.1" width="157" height="131.2" rx="13"/><text x="1039" y="1455.4"><tspan x="1039">node #61</tspan><tspan x="1039" dy="20">Fare ≤ 15.373</tspan><tspan x="1039" dy="20">gini = 0.201</tspan><tspan x="1039" dy="20">samples = 2.0%</tspan><tspan x="1039" dy="20">value = [0.113, 0.887]</tspan><tspan x="1039" dy="20">class = Survived</tspan></text></g>
<g id="node66"><rect class="d" x="1141.5" y="1444.2" width="125" height="111" rx="13"/><text x="1204" y="1465.4"><tspan x="1204">node #66</tspan><tspan x="1204" dy="20">gini = 0.0</tspan><tspan x="1204" dy="20">samples = 0.1%</tspan><tspan x="1204" dy="20">value = [1.0, 0.0]</tspan><tspan x="1204" dy="20">class = Died</tspan></text></g>
<g id="node69"><rect class="i" x="1300" y="1434.1" width="157" height="131.2" rx="13"/><text x="1378.5" y="1455.4"><tspan x="1378.5">node #69</tspan><tspan x="1378.5" dy="20">Fare ≤ 12.15</tspan><tspan x="1378.5" dy="20">gini = 0.434</tspan><tspan x="1378.5" dy="20">samples = 2.0%</tspan><tspan x="1378.5" dy="20">value = [0.319, 0.681]</tspan><tspan x="1378.5" dy="20">class = Survived</tspan></text></g>
<g id="node82"><rect class="d" x="1481.5" y="1444.2" width="125" height="111" rx="13"/><text x="1544" y="1465.4"><tspan x="1544">node #82</tspan><tspan x="1544" dy="20">gini = 0.0</tspan><tspan x="1544" dy="20">samples = 0.3%</tspan><tspan x="1544" dy="20">value = [1.0, 0.0]</tspan><tspan x="1544" dy="20">class = Died</tspan></text></g>
<g id="node90"><rect class="i" x="1635" y="1434.1" width="157" height="131.2" rx="13"/><text x="1713.5" y="1455.4"><tspan x="1713.5">node #90</tspan><tspan x="1713.5" dy="20">Age ≤ 50.0</tspan><tspan x="1713.5" dy="20">gini = 0.434</tspan><tspan x="1713.5" dy="20">samples = 0.3%</tspan><tspan x="1713.5" dy="20">value = [0.319, 0.681]</tspan><tspan x="1713.5" dy="20">class = Survived</tspan></text></g>
<g id="node93"><rect class="s" x="1816" y="1444.2" width="125" height="111" rx="13"/><text x="1878.5" y="1465.4"><tspan x="1878.5">node #93</tspan><tspan x="1878.5" dy="20">gini = 0.0</tspan><tspan x="1878.5" dy="20">samples = 0.3%</tspan><tspan x="1878.5" dy="20">value = [0.0, 1.0]</tspan><tspan x="1878.5" dy="20">class = Survived</tspan></text></g>
<g id="node98"><rect class="s" x="2056" y="1444.2" width="125" height="111" rx="13"/><text x="2118.5" y="1465.4"><tspan x="2118.5">node #98</tspan><tspan x="2118.5" dy="20">gini = 0.0</tspan><tspan x="2118.5" dy="20">samples = 0.3%</tspan><tspan x="2118.5" dy="20">value = [0.0, 1.0]</tspan><tspan x="2118.5" dy="20">class = Survived</tspan></text></g>
<g id="node99"><rect class="d" x="2205.5" y="1444.2" width="125" height="111" rx="13"/><text x="2268" y="1465.4"><tspan x="2268">node #99</tspan><tspan x="2268" dy="20">gini = 0.0</tspan><tspan x="2268" dy="20">samples = 0.4%</tspan><tspan x="2268" dy="20">value = [1.0, 0.0]</tspan><tspan x="2268" dy="20">class = Died</tspan></text></g>
<g id="node62"><rect class="i" x="960.5" y="1612.7" width="157" height="131.2" rx="13"/><text x="1039" y="1634"><tspan x="1039">node #62</tspan><tspan x="1039" dy="20">Fare ≤ 12.848</tspan><tspan x="1039" dy="20">gini = 0.485</tspan><tspan x="1039" dy="20">samples = 0.7%</tspan><tspan x="1039" dy="20">value = [0.412, 0.588]</tspan><tspan x="1039" dy="20">class = Survived</tspan></text></g>
<g id="node65"><rect class="s" x="1141.5" y="1622.8" width="125" height="111" rx="13"/><text x="1204" y="1644"><tspan x="1204">node #65</tspan><tspan x="1204" dy="20">gini = -0.0</tspan><tspan x="1204" dy="20">samples = 1.3%</tspan><tspan x="1204" dy="20">value = [0.0, 1.0]</tspan><tspan x="1204" dy="20">class = Survived</tspan></text></g>
<g id="node70"><rect class="i" x="1299" y="1612.7" width="157" height="131.2" rx="13"/><text x="1377.5" y="1634"><tspan x="1377.5">node #70</tspan><tspan x="1377.5" dy="20">Age ≤ 21.5</tspan><tspan x="1377.5" dy="20">gini = 0.376</tspan><tspan x="1377.5" dy="20">samples = 1.7%</tspan><tspan x="1377.5" dy="20">value = [0.251, 0.749]</tspan><tspan x="1377.5" dy="20">class = Survived</tspan></text></g>
<g id="node81"><rect class="d" x="1480" y="1622.8" width="125" height="111" rx="13"/><text x="1542.5" y="1644"><tspan x="1542.5">node #81</tspan><tspan x="1542.5" dy="20">gini = -0.0</tspan><tspan x="1542.5" dy="20">samples = 0.3%</tspan><tspan x="1542.5" dy="20">value = [1.0, 0.0]</tspan><tspan x="1542.5" dy="20">class = Died</tspan></text></g>
<g id="node91"><rect class="d" x="1637.5" y="1622.8" width="125" height="111" rx="13"/><text x="1700" y="1644"><tspan x="1700">node #91</tspan><tspan x="1700" dy="20">gini = 0.0</tspan><tspan x="1700" dy="20">samples = 0.1%</tspan><tspan x="1700" dy="20">value = [1.0, 0.0]</tspan><tspan x="1700" dy="20">class = Died</tspan></text></g>
<g id="node92"><rect class="s" x="1787" y="1622.8" width="125" height="111" rx="13"/><text x="1849.5" y="1644"><tspan x="1849.5">node #92</tspan><tspan x="1849.5" dy="20">gini = -0.0</tspan><tspan x="1849.5" dy="20">samples = 0.1%</tspan><tspan x="1849.5" dy="20">value = [0.0, 1.0]</tspan><tspan x="1849.5" dy="20">class = Survived</tspan></text></g>
<g id="node63"><rect class="s" x="901.5" y="1801.5" width="125" height="111" rx="13"/><text x="964" y="1822.7"><tspan x="964">node #63</tspan><tspan x="964" dy="20">gini = 0.0</tspan><tspan x="964" dy="20">samples = 0.3%</tspan><tspan x="964" dy="20">value = [0.0, 1.0]</tspan><tspan x="964" dy="20">class = Survived</tspan></text></g>
<g id="node64"><rect class="d" x="1051" y="1801.5" width="125" height="111" rx="13"/><text x="1113.5" y="1822.7"><tspan x="1113.5">node #64</tspan><tspan x="1113.5" dy="20">gini = 0.0</tspan><tspan x="1113.5" dy="20">samples = 0.4%</tspan><tspan x="1113.5" dy="20">value = [1.0, 0.0]</tspan><tspan x="1113.5" dy="20">class = Died</tspan></text></g>
<g id="node71"><rect class="i" x="1245.5" y="1791.4" width="157" height="131.2" rx="13"/><text x="1324" y="1812.7"><tspan x="1324">node #71</tspan><tspan x="1324" dy="20">Age ≤ 19.5</tspan><tspan x="1324" dy="20">gini = 0.466</tspan><tspan x="1324" dy="20">samples = 1.3%</tspan><tspan x="1324" dy="20">value = [0.369, 0.631]</tspan><tspan x="1324" dy="20">class = Survived</tspan></text></g>
<g id="node80"><rect class="s" x="1427" y="1801.5" width="125" height="111" rx="13"/><text x="1489.5" y="1822.7"><tspan x="1489.5">node #80</tspan><tspan x="1489.5" dy="20">gini = 0.0</tspan><tspan x="1489.5" dy="20">samples = 0.4%</tspan><tspan x="1489.5" dy="20">value = [0.0, 1.0]</tspan><tspan x="1489.5" dy="20">class = Survived</tspan></text></g>
<g id="node72"><rect class="i" x="1175" y="1970.1" width="141" height="131.2" rx="13"/><text x="1245.5" y="1991.4"><tspan x="1245.5">node #72</tspan><tspan x="1245.5" dy="20">Fare ≤ 7.123</tspan><tspan x="1245.5" dy="20">gini = 0.307</tspan><tspan x="1245.5" dy="20">samples = 0.8%</tspan><tspan x="1245.5" dy="20">value = [0.19, 0.81]</tspan><tspan x="1245.5" dy="20">class = Survived</tspan></text></g>
<g id="node79"><rect class="d" x="1340" y="1980.2" width="125" height="111" rx="13"/><text x="1402.5" y="2001.4"><tspan x="1402.5">node #79</tspan><tspan x="1402.5" dy="20">gini = -0.0</tspan><tspan x="1402.5" dy="20">samples = 0.4%</tspan><tspan x="1402.5" dy="20">value = [1.0, 0.0]</tspan><tspan x="1402.5" dy="20">class = Died</tspan></text></g>
<g id="node73"><rect class="d" x="1100" y="2158.8" width="125" height="111" rx="13"/><text x="1162.5" y="2180"><tspan x="1162.5">node #73</tspan><tspan x="1162.5" dy="20">gini = 0.0</tspan><tspan x="1162.5" dy="20">samples = 0.1%</tspan><tspan x="1162.5" dy="20">value = [1.0, 0.0]</tspan><tspan x="1162.5" dy="20">class = Died</tspan></text></g>
<g id="node74"><rect class="i" x="1249.5" y="2148.7" width="157" height="131.2" rx="13"/><text x="1328" y="2170"><tspan x="1328">node #74</tspan><tspan x="1328" dy="20">Fare ≤ 7.815</tspan><tspan x="1328" dy="20">gini = 0.188</tspan><tspan x="1328" dy="20">samples = 0.7%</tspan><tspan x="1328" dy="20">value = [0.105, 0.895]</tspan><tspan x="1328" dy="20">class = Survived</tspan></text></g>
<g id="node75"><rect class="i" x="1167" y="2327.4" width="157" height="131.2" rx="13"/><text x="1245.5" y="2348.7"><tspan x="1245.5">node #75</tspan><tspan x="1245.5" dy="20">Fare ≤ 7.635</tspan><tspan x="1245.5" dy="20">gini = 0.434</tspan><tspan x="1245.5" dy="20">samples = 0.3%</tspan><tspan x="1245.5" dy="20">value = [0.319, 0.681]</tspan><tspan x="1245.5" dy="20">class = Survived</tspan></text></g>
<g id="node78"><rect class="s" x="1348" y="2337.5" width="125" height="111" rx="13"/><text x="1410.5" y="2358.7"><tspan x="1410.5">node #78</tspan><tspan x="1410.5" dy="20">gini = -0.0</tspan><tspan x="1410.5" dy="20">samples = 0.4%</tspan><tspan x="1410.5" dy="20">value = [0.0, 1.0]</tspan><tspan x="1410.5" dy="20">class = Survived</tspan></text></g>
<g id="node76"><rect class="s" x="1108" y="2506" width="125" height="111" rx="13"/><text x="1170.5" y="2527.2"><tspan x="1170.5">node #76</tspan><tspan x="1170.5" dy="20">gini = 0.0</tspan><tspan x="1170.5" dy="20">samples = 0.1%</tspan><tspan x="1170.5" dy="20">value = [0.0, 1.0]</tspan><tspan x="1170.5" dy="20">class = Survived</tspan></text></g>
<g id="node77"><rect class="d" x="1257.5" y="2506" width="125" height="111" rx="13"/><text x="1320" y="2527.2"><tspan x="1320">node #77</tspan><tspan x="1320" dy="20">gini = -0.0</tspan><tspan x="1320" dy="20">samples = 0.1%</tspan><tspan x="1320" dy="20">value = [1.0, 0.0]</tspan><tspan x="1320" dy="20">class = Died</tspan></text></g>
</svg>
